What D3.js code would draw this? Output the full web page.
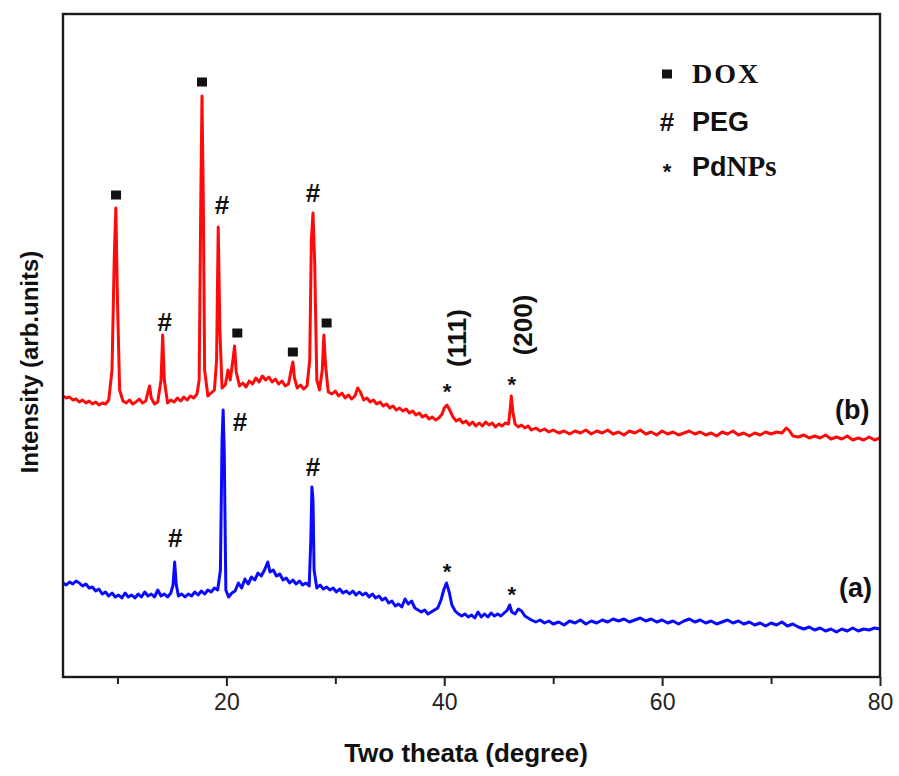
<!DOCTYPE html>
<html><head><meta charset="utf-8">
<script src="https://cdnjs.cloudflare.com/ajax/libs/d3/7.8.5/d3.min.js"></script>
<style>body{margin:0;background:#fff}svg{display:block}</style>
</head><body>
<script>
// X-ray diffraction patterns: [two theta (deg), intensity (arb. units)]
const seriesB = [[5.0,304],[5.3,302],[5.6,303],[5.9,300],[6.2,301],[6.5,298],[6.8,300],[7.1,297],[7.4,299],[7.7,296],[8.0,298],[8.3,295],[8.6,297],[8.9,296],[9.2,300],[9.5,330],[9.7,440],[9.85,492],[10.0,400],[10.2,310],[10.5,299],[10.8,297],[11.1,300],[11.4,296],[11.7,298],[12.0,301],[12.3,297],[12.6,299],[12.8,308],[12.95,314],[13.1,302],[13.4,296],[13.7,298],[14.0,320],[14.15,365],[14.3,320],[14.6,297],[14.9,300],[15.2,298],[15.5,302],[15.8,299],[16.1,303],[16.4,300],[16.7,304],[17.0,302],[17.3,306],[17.5,320],[17.65,500],[17.76,604],[17.88,500],[18.0,330],[18.3,304],[18.6,307],[18.9,310],[19.1,340],[19.25,473],[19.4,370],[19.6,312],[19.9,315],[20.15,330],[20.35,320],[20.6,340],[20.75,354],[20.9,328],[21.2,314],[21.5,317],[21.8,313],[22.1,319],[22.4,316],[22.7,322],[23.0,318],[23.3,324],[23.6,320],[23.9,323],[24.2,318],[24.5,321],[24.8,316],[25.1,319],[25.4,314],[25.7,316],[25.95,330],[26.1,338],[26.25,322],[26.5,312],[26.8,315],[27.1,311],[27.4,314],[27.65,340],[27.8,460],[27.95,487],[28.1,440],[28.3,320],[28.55,310],[28.8,330],[28.95,365],[29.1,335],[29.35,308],[29.7,306],[30.0,309],[30.3,304],[30.6,307],[30.9,302],[31.2,305],[31.5,301],[31.8,304],[32.05,312],[32.3,308],[32.6,300],[32.9,302],[33.2,298],[33.5,300],[33.8,296],[34.1,298],[34.4,294],[34.7,296],[35.0,292],[35.3,294],[35.6,290],[35.9,292],[36.2,289],[36.5,291],[36.8,287],[37.1,289],[37.4,285],[37.7,287],[38.0,283],[38.3,285],[38.6,281],[38.9,283],[39.2,280],[39.5,282],[39.8,286],[40.0,292],[40.25,295],[40.5,290],[40.8,283],[41.1,279],[41.4,281],[41.7,277],[42.0,279],[42.3,275],[42.6,278],[42.9,274],[43.2,277],[43.5,274],[43.8,278],[44.1,275],[44.4,277],[44.7,273],[45.0,276],[45.3,274],[45.6,277],[45.9,276],[46.05,290],[46.15,304],[46.3,288],[46.5,276],[46.8,273],[47.1,275],[47.4,272],[47.7,274],[48.0,270],[48.4,272],[48.8,269],[49.2,271],[49.6,268],[50.0,270],[50.5,267],[51.0,269],[51.5,266],[52.0,269],[52.5,267],[53.0,270],[53.5,266],[54.0,269],[54.5,267],[55.0,270],[55.5,266],[56.0,268],[56.5,265],[57.0,269],[57.5,267],[58.0,270],[58.5,266],[59.0,268],[59.5,265],[60.0,269],[60.5,266],[61.0,268],[61.5,265],[62.0,267],[62.5,269],[63.0,266],[63.5,268],[64.0,265],[64.5,267],[65.0,264],[65.5,268],[66.0,266],[66.5,269],[67.0,265],[67.5,267],[68.0,264],[68.5,267],[69.0,265],[69.5,268],[70.0,266],[70.5,268],[71.0,267],[71.4,272],[71.7,269],[72.0,264],[72.5,263],[73.0,265],[73.5,262],[74.0,264],[74.5,262],[75.0,265],[75.5,261],[76.0,263],[76.5,261],[77.0,264],[77.5,260],[78.0,262],[78.5,260],[79.0,263],[79.5,260],[80.0,262]];

const seriesA = [[5.0,117],[5.3,115],[5.6,118],[5.9,116],[6.2,119],[6.5,117],[6.8,114],[7.1,116],[7.4,112],[7.7,113],[8.0,109],[8.3,111],[8.6,106],[8.9,108],[9.2,104],[9.5,107],[9.8,103],[10.1,105],[10.4,102],[10.7,107],[11.0,103],[11.3,105],[11.6,102],[11.9,106],[12.2,103],[12.5,108],[12.8,104],[13.1,106],[13.4,103],[13.7,110],[14.0,104],[14.3,106],[14.6,103],[14.9,107],[15.1,115],[15.25,138],[15.4,115],[15.6,104],[15.9,106],[16.2,103],[16.5,106],[16.8,104],[17.1,108],[17.4,105],[17.7,109],[18.0,106],[18.3,110],[18.6,108],[18.9,112],[19.2,110],[19.45,130],[19.6,260],[19.7,290],[19.8,250],[19.95,110],[20.2,103],[20.5,107],[20.8,109],[21.1,117],[21.4,112],[21.7,121],[22.0,116],[22.3,123],[22.6,120],[22.9,127],[23.2,124],[23.5,130],[23.8,138],[24.0,128],[24.3,130],[24.6,124],[24.9,126],[25.2,120],[25.5,122],[25.8,117],[26.1,120],[26.4,116],[26.7,119],[27.0,115],[27.3,117],[27.6,114],[27.75,160],[27.85,213],[27.95,200],[28.05,130],[28.3,112],[28.6,115],[28.9,111],[29.2,113],[29.5,110],[29.8,112],[30.1,108],[30.4,111],[30.7,107],[31.0,109],[31.3,106],[31.6,109],[31.9,105],[32.2,108],[32.5,105],[32.8,107],[33.1,103],[33.4,106],[33.7,102],[34.0,104],[34.3,100],[34.6,102],[34.9,97],[35.2,99],[35.5,94],[35.8,96],[36.1,93],[36.4,101],[36.7,96],[37.0,99],[37.3,92],[37.6,90],[37.9,88],[38.2,90],[38.5,86],[38.8,88],[39.1,90],[39.4,92],[39.7,100],[39.95,110],[40.2,117],[40.45,108],[40.7,95],[41.0,89],[41.3,86],[41.6,84],[41.9,86],[42.2,83],[42.5,85],[42.8,82],[43.1,88],[43.4,83],[43.7,86],[44.0,83],[44.3,87],[44.6,84],[44.9,86],[45.2,84],[45.5,87],[45.8,90],[46.0,95],[46.2,88],[46.5,86],[46.8,91],[47.1,89],[47.4,84],[47.7,82],[48.0,80],[48.4,78],[48.8,80],[49.2,77],[49.6,79],[50.0,76],[50.5,78],[51.0,75],[51.5,79],[52.0,77],[52.5,80],[53.0,76],[53.5,79],[54.0,77],[54.5,80],[55.0,78],[55.5,81],[56.0,79],[56.5,81],[57.0,78],[57.5,80],[58.0,82],[58.5,79],[59.0,81],[59.5,78],[60.0,80],[60.5,77],[61.0,79],[61.5,76],[62.0,79],[62.5,81],[63.0,78],[63.5,80],[64.0,77],[64.5,79],[65.0,76],[65.5,78],[66.0,80],[66.5,77],[67.0,79],[67.5,76],[68.0,78],[68.5,75],[69.0,77],[69.5,74],[70.0,77],[70.5,75],[71.0,78],[71.5,74],[72.0,76],[72.5,73],[73.0,71],[73.5,73],[74.0,70],[74.5,72],[75.0,69],[75.5,71],[76.0,68],[76.5,71],[77.0,69],[77.5,72],[78.0,69],[78.5,71],[79.0,70],[79.5,72],[80.0,71]];

// peak assignments: [two theta, intensity position, phase]
const peakMarks = [
  [9.87,505,"DOX"],[14.35,378,"PEG"],[17.76,618,"DOX"],[19.6,495,"PEG"],[21.0,367,"DOX"],
  [26.1,348,"DOX"],[27.95,507,"PEG"],[29.2,377,"DOX"],[40.25,313,"PdNPs"],[46.2,320,"PdNPs"],
  [15.3,162,"PEG"],[21.25,278,"PEG"],[27.95,233,"PEG"],[40.25,133,"PdNPs"],[46.2,110,"PdNPs"]
];
const millerLabels = [[41.2,362,"(111)"],[47.2,375,"(200)"]];
const seriesLabels = [[77.45,290,"(b)"],[77.75,112,"(a)"]];
const legendItems = [["DOX","DOX"],["PEG","PEG"],["PdNPs","PdNPs"]];
const majorTicks = [20,40,60,80];
const minorTicks = [10,30,50,70];
const xDomain = [5,80];
const yDomain = [23,686];

const W=899,H=776;
const L=63,R=880,T=14,B=677;
const svg=d3.select("body").append("svg").attr("width",W).attr("height",H)
  .style("font-family","Arial, 'Liberation Sans', sans-serif");
const x=d3.scaleLinear().domain(xDomain).range([L,R]);
const y=d3.scaleLinear().domain(yDomain).range([B,T]);

const line=d3.line().x(d=>x(d[0])).y(d=>y(d[1]));
svg.append("path").datum(seriesA).attr("d",line).attr("fill","none")
  .attr("stroke","#0a0aff").attr("stroke-width",3).attr("stroke-linejoin","round");
svg.append("path").datum(seriesB).attr("d",line).attr("fill","none")
  .attr("stroke","#ff0a0a").attr("stroke-width",3).attr("stroke-linejoin","round");

// frame
svg.append("rect").attr("x",L).attr("y",T).attr("width",R-L).attr("height",B-T)
  .attr("fill","none").attr("stroke","#1a1a1a").attr("stroke-width",2.4);

// axes
const gx=svg.append("g").attr("transform",`translate(0,${B})`)
  .call(d3.axisBottom(x).tickValues(majorTicks).tickSize(9).tickPadding(8).tickFormat(d3.format("d")));
gx.select(".domain").remove();
gx.selectAll("line").attr("stroke","#222").attr("stroke-width",2);
gx.selectAll("text").attr("font-size",23).attr("fill","#222").attr("font-family","Arial, 'Liberation Sans', sans-serif");
const gm=svg.append("g").attr("transform",`translate(0,${B})`)
  .call(d3.axisBottom(x).tickValues(minorTicks).tickSize(7).tickFormat(""));
gm.select(".domain").remove();
gm.selectAll("line").attr("stroke","#222").attr("stroke-width",2);

svg.append("text").attr("x",466).attr("y",762).attr("text-anchor","middle")
  .attr("font-size",26).attr("font-weight","bold").attr("fill","#111").text("Two theata (degree)");
svg.append("text").attr("transform","translate(29,362) rotate(-90)").attr("text-anchor","middle")
  .attr("dominant-baseline","central").attr("font-size",24).attr("font-weight","bold").attr("fill","#111")
  .text("Intensity (arb.units)");

function drawSymbol(g,kind,cx,cy){
  if(kind==="DOX"){
    g.append("rect").attr("x",cx-5).attr("y",cy-4.5).attr("width",10).attr("height",9).attr("fill","#111");
  } else if(kind==="PEG"){
    g.append("text").attr("x",cx).attr("y",cy+9).attr("text-anchor","middle")
      .attr("font-size",26).attr("font-weight","bold").attr("fill","#111").text("#");
  } else {
    g.append("text").attr("x",cx).attr("y",cy+12).attr("text-anchor","middle")
      .attr("font-size",22).attr("font-weight","bold").attr("fill","#111").text("*");
  }
}
const gmk=svg.append("g");
peakMarks.forEach(p=>drawSymbol(gmk,p[2],x(p[0]),y(p[1])));

millerLabels.forEach(m=>{
  svg.append("text").attr("transform",`translate(${x(m[0])},${y(m[1])}) rotate(-90)`)
    .attr("text-anchor","middle").attr("dominant-baseline","central")
    .attr("font-size",26).attr("font-weight","bold").attr("fill","#111").text(m[2]);
});
seriesLabels.forEach(s=>{
  svg.append("text").attr("x",x(s[0])).attr("y",y(s[1])).attr("text-anchor","middle")
    .attr("dominant-baseline","central").attr("font-size",27).attr("font-weight","bold").attr("fill","#111").text(s[2]);
});

// legend
const lg=svg.append("g");
const legY=[74,122,167];
legendItems.forEach((it,i)=>{
  drawSymbol(lg,it[0],667,legY[i]);
  const t=lg.append("text").attr("x",692).attr("y",legY[i]+9).attr("font-weight","bold").attr("fill","#111");
  if(it[0]==="DOX"){
    t.attr("font-family","'Liberation Serif', 'Times New Roman', serif").attr("font-size",28).attr("letter-spacing",2).text(it[1]);
  } else if(it[0]==="PEG"){
    t.attr("font-size",27).text(it[1]);
  } else {
    t.append("tspan").attr("font-size",27).text("Pd");
    t.append("tspan").attr("font-family","'Liberation Serif', 'Times New Roman', serif").attr("font-size",29).text("NPs");
  }
});
</script>
</body></html>
